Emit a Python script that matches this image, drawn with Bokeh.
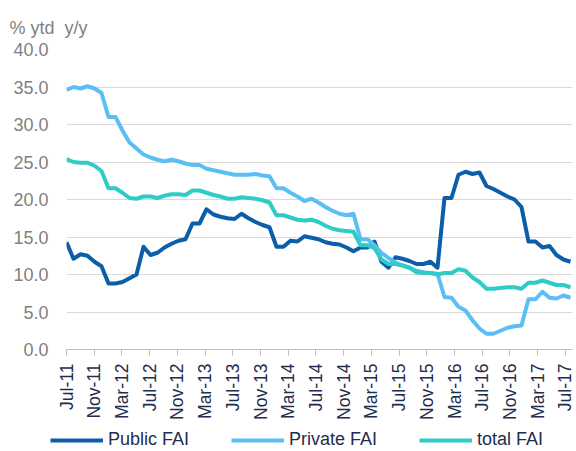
import math
from bokeh.plotting import figure
from bokeh.layouts import column
from bokeh.models import Range1d, FixedTicker, Legend, LegendItem, NumeralTickFormatter, Title
from bokeh.embed import file_html
from bokeh.resources import INLINE

# month index 0 = Jul-11 ... 72 = Jul-17
months = list(range(73))

public_fai = [14.3, 12.1, 12.7, 12.5, 11.7, 11.1, 8.8, 8.8, 9.0, 9.5,
              10.0, 13.7, 12.6, 12.9, 13.6, 14.1, 14.5, 14.7, 16.8, 16.8,
              18.7, 18.0, 17.7, 17.5, 17.4, 18.1, 17.5, 17.0, 16.6, 16.3,
              13.7, 13.7, 14.5, 14.4, 15.1, 14.9, 14.7, 14.3, 14.1, 14.0,
              13.6, 13.1, 13.6, 13.6, 14.4, 11.7, 10.9, 12.3, 12.1, 11.8,
              11.4, 11.4, 11.7, 10.9, 20.2, 20.2, 23.3, 23.7, 23.4, 23.6,
              21.8, 21.4, 20.9, 20.4, 20.0, 19.0, 14.4, 14.4, 13.6, 13.8,
              12.6, 12.0, 11.7]

private_fai = [34.6, 35.0, 34.8, 35.1, 34.8, 34.2, 31.0, 31.0, 29.2, 27.6,
               26.8, 26.0, 25.6, 25.3, 25.1, 25.3, 25.1, 24.8, 24.6, 24.6,
               24.1, 23.9, 23.7, 23.5, 23.3, 23.3, 23.3, 23.4, 23.2, 23.1,
               21.5, 21.5, 20.9, 20.4, 19.8, 20.1, 19.6, 19.0, 18.5, 18.1,
               17.9, 18.1, 14.7, 14.7, 13.9, 12.9, 12.2, 11.6, 11.2, 10.9,
               10.5, 10.3, 10.2, 10.1, 7.0, 6.9, 5.7, 5.2, 3.9, 2.8,
               2.1, 2.1, 2.5, 2.9, 3.1, 3.2, 6.7, 6.7, 7.7, 6.9,
               6.8, 7.2, 6.9]

total_fai = [25.4, 25.0, 24.9, 24.9, 24.5, 23.8, 21.5, 21.5, 20.9, 20.2,
             20.1, 20.4, 20.4, 20.2, 20.5, 20.7, 20.7, 20.6, 21.2, 21.2,
             20.9, 20.6, 20.4, 20.1, 20.1, 20.3, 20.2, 20.1, 19.9, 19.6,
             17.9, 17.9, 17.6, 17.3, 17.2, 17.3, 17.0, 16.5, 16.1, 15.9,
             15.8, 15.7, 13.9, 13.9, 13.5, 12.0, 11.4, 11.4, 11.2, 10.9,
             10.3, 10.2, 10.2, 10.0, 10.2, 10.2, 10.7, 10.5, 9.6, 9.0,
             8.1, 8.1, 8.2, 8.3, 8.3, 8.1, 8.9, 8.9, 9.2, 8.9,
             8.6, 8.6, 8.3]

tick_labels = ["Jul-11", "Nov-11", "Mar-12", "Jul-12", "Nov-12", "Mar-13",
               "Jul-13", "Nov-13", "Mar-14", "Jul-14", "Nov-14", "Mar-15",
               "Jul-15", "Nov-15", "Mar-16", "Jul-16", "Nov-16", "Mar-17",
               "Jul-17"]
y_ticks = [0, 5, 10, 15, 20, 25, 30, 35, 40]

series_names = ["Public FAI", "Private FAI", "total FAI"]
series_values = [public_fai, private_fai, total_fai]
colors = ["#0C5DAA", "#5BBFF6", "#2FCBC7"]

FONT = "Liberation Sans"
TEXT_DARK = "#1F2D4E"
TEXT_GREY = "#7F7F7F"
TICK_STEP = 3.96  # axis tick spacing in month units (as drawn in the source)

p = figure(width=576, height=428, output_backend="svg", toolbar_location=None,
           x_range=Range1d(0, 72.29), y_range=Range1d(0, 40),
           min_border_left=66, min_border_right=4, min_border_top=49,
           min_border_bottom=79, frame_align=False)
p.outline_line_color = None
p.background_fill_color = "white"
p.border_fill_color = "white"

p.title = Title(text="% ytd\u00a0 y/y", align="left", offset=-57, standoff=24,
                text_font=FONT, text_font_size="18px", text_font_style="normal",
                text_color=TEXT_GREY)

# x axis
xt = [round(k * TICK_STEP, 2) for k in range(len(tick_labels))]
p.xaxis.ticker = FixedTicker(ticks=xt)
p.xaxis.major_label_overrides = {xt[k]: tick_labels[k] for k in range(len(tick_labels))}
p.xaxis.major_label_orientation = math.pi / 2
p.xaxis.major_label_text_font = FONT
p.xaxis.major_label_text_font_size = "17.5px"
p.xaxis.major_label_text_color = TEXT_DARK
p.xaxis.axis_line_color = "#BFBFBF"
p.xaxis.major_tick_line_color = "#BFBFBF"
p.xaxis.major_tick_out = 6
p.xaxis.major_tick_in = 0
p.xaxis.minor_tick_line_color = None
p.xaxis.major_label_standoff = 8

# y axis
p.yaxis.ticker = FixedTicker(ticks=y_ticks)
p.yaxis.formatter = NumeralTickFormatter(format="0.0")
p.yaxis.axis_line_color = None
p.yaxis.major_tick_line_color = None
p.yaxis.minor_tick_line_color = None
p.yaxis.major_tick_out = 0
p.yaxis.major_tick_in = 0
p.yaxis.major_label_standoff = 18
p.yaxis.major_label_text_font = FONT
p.yaxis.major_label_text_font_size = "18px"
p.yaxis.major_label_text_color = TEXT_GREY

p.xgrid.grid_line_color = None
p.ygrid.grid_line_color = "#D9D9D9"
p.ygrid.grid_line_width = 1

for vals, col in zip(series_values, colors):
    p.line(months, vals, line_color=col, line_width=4, line_join="round")

# legend strip below the chart (its proxy lines lie outside its visible range)
q = figure(width=576, height=23, output_backend="svg", toolbar_location=None,
           x_axis_location=None, y_axis_location=None,
           x_range=Range1d(0, 72.29), y_range=Range1d(-100, -99),
           min_border_left=0, min_border_right=0, min_border_top=0, min_border_bottom=0,
           frame_align=False)
q.grid.visible = False
q.outline_line_color = None
q.background_fill_color = "white"
q.border_fill_color = "white"
leg_renderers = [q.line(months, vals, line_color=col, line_width=4)
                 for vals, col in zip(series_values, colors)]

legend = Legend(items=[LegendItem(label=n, renderers=[r]) for n, r in zip(series_names, leg_renderers)],
                orientation="horizontal", location=(50, 1),
                glyph_width=53, glyph_height=20, label_height=20, label_standoff=5,
                spacing=42, padding=0, margin=0,
                border_line_color=None, background_fill_alpha=0,
                label_text_font=FONT, label_text_font_size="18px",
                label_text_color=TEXT_DARK)
q.add_layout(legend, "center")

layout = column(p, q, spacing=0)
open("out.html", "w").write(file_html(layout, INLINE))
